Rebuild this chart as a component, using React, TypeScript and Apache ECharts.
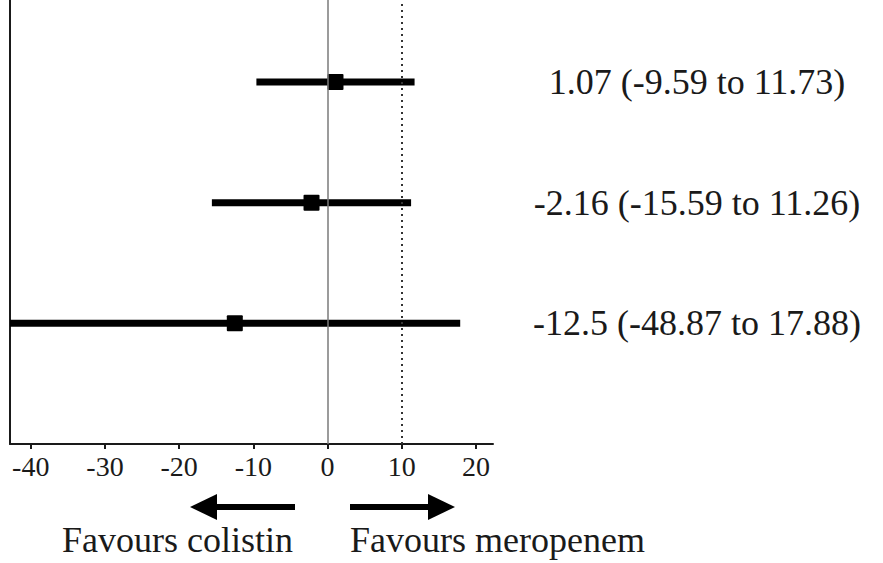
import React, { useEffect, useRef } from "react";
import * as echarts from "echarts";

// Forest plot: mean difference with 95% CI per outcome row
const rowPositions = [3, 2, 1];
const estimates = [1.07, -2.16, -12.5];
const lowerCI = [-9.59, -15.59, -48.87];
const upperCI = [11.73, 11.26, 17.88];
const tickValues = [-40, -30, -20, -10, 0, 10, 20];
const favourLabels = ["Favours colistin", "Favours meropenem"];

const SERIF = '"Liberation Serif", "Times New Roman", serif';

export default function App() {
  const ref = useRef<HTMLDivElement>(null);

  useEffect(() => {
    document.body.style.margin = "0";
    if (!ref.current) return;
    const chart = echarts.init(ref.current, undefined, { renderer: "svg" });

    const rows = rowPositions.map((r, i) => [r, estimates[i], lowerCI[i], upperCI[i]]);

    const option: any = {
      animation: false,
      backgroundColor: "#ffffff",
      grid: { left: 10, right: 390, top: 0, bottom: 119, containLabel: false },
      xAxis: {
        type: "value",
        min: -42.8,
        max: 22.3,
        splitLine: { show: false },
        axisLine: { show: true, onZero: false, lineStyle: { color: "#1a1a1a", width: 2 } },
        axisTick: {
          show: true,
          customValues: tickValues,
          length: 5,
          lineStyle: { color: "#1a1a1a", width: 2 },
        },
        axisLabel: {
          customValues: tickValues,
          color: "#1a1a1a",
          fontFamily: SERIF,
          fontSize: 28,
          margin: 22,
          verticalAlign: "middle",
        },
      },
      yAxis: {
        type: "value",
        min: 0,
        max: 3.68,
        splitLine: { show: false },
        axisTick: { show: false },
        axisLabel: { show: false },
        axisLine: { show: true, onZero: false, lineStyle: { color: "#1a1a1a", width: 2 } },
      },
      series: [
        {
          type: "line",
          data: [],
          silent: true,
          markLine: {
            silent: true,
            symbol: "none",
            label: { show: false },
            data: [
              { xAxis: 0, lineStyle: { color: "#7a7a7a", width: 1.5, type: "solid" } },
              { xAxis: 10, lineStyle: { color: "#333333", width: 2, type: [2, 4] } },
            ],
          },
        },
        {
          type: "custom",
          data: rows,
          encode: { x: [1, 2, 3], y: 0 },
          renderItem: (params: any, api: any) => {
            const cs = params.coordSys;
            const y = api.value(0);
            const est = api.value(1);
            const lo = api.value(2);
            const hi = api.value(3);
            const pEst = api.coord([est, y]);
            const pLo = api.coord([lo, y]);
            const pHi = api.coord([hi, y]);
            const x1 = Math.max(pLo[0], cs.x);
            const x2 = Math.min(pHi[0], cs.x + cs.width);
            const sq = 16;
            return {
              type: "group",
              children: [
                {
                  type: "line",
                  shape: { x1, y1: pEst[1], x2, y2: pEst[1] },
                  style: { stroke: "#000000", lineWidth: 7 },
                },
                {
                  type: "rect",
                  shape: { x: pEst[0] - sq / 2, y: pEst[1] - sq / 2, width: sq, height: sq, r: 1 },
                  style: { fill: "#000000" },
                },
                {
                  type: "text",
                  x: 697,
                  y: pEst[1],
                  style: {
                    text: `${est} (${lo} to ${hi})`,
                    fill: "#1a1a1a",
                    fontFamily: SERIF,
                    fontSize: 36,
                    align: "center",
                    verticalAlign: "middle",
                  },
                },
              ],
            };
          },
        },
      ],
      graphic: [
        // left arrow
        {
          type: "line",
          shape: { x1: 212, y1: 507, x2: 295, y2: 507 },
          style: { stroke: "#000000", lineWidth: 6 },
        },
        {
          type: "polygon",
          shape: { points: [[190, 507], [217, 494], [217, 520]] },
          style: { fill: "#000000" },
        },
        // right arrow
        {
          type: "line",
          shape: { x1: 350, y1: 507, x2: 433, y2: 507 },
          style: { stroke: "#000000", lineWidth: 6 },
        },
        {
          type: "polygon",
          shape: { points: [[455, 507], [428, 494], [428, 520]] },
          style: { fill: "#000000" },
        },
        {
          type: "text",
          x: 62,
          y: 540,
          style: {
            text: favourLabels[0],
            fill: "#1a1a1a",
            fontFamily: SERIF,
            fontSize: 36,
            align: "left",
            verticalAlign: "middle",
          },
        },
        {
          type: "text",
          x: 350,
          y: 540,
          style: {
            text: favourLabels[1],
            fill: "#1a1a1a",
            fontFamily: SERIF,
            fontSize: 36,
            align: "left",
            verticalAlign: "middle",
          },
        },
      ],
    };

    chart.setOption(option);
    return () => chart.dispose();
  }, []);

  return <div ref={ref} style={{ width: 883, height: 563 }} />;
}
